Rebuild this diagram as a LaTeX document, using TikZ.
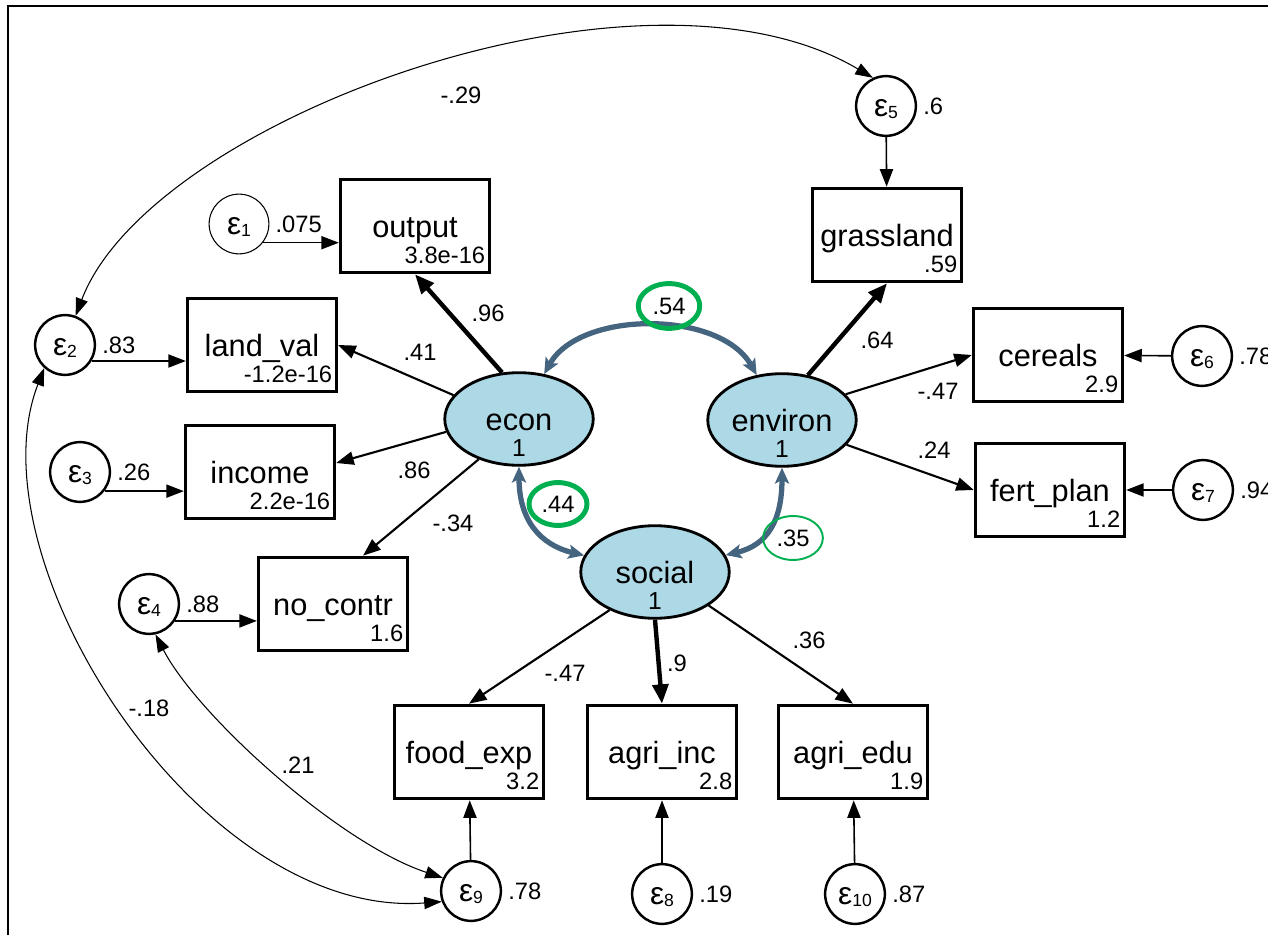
\documentclass[tikz,border=0pt]{standalone}
\usepackage{fontspec}
\setmainfont{Liberation Sans}
\usepackage{tikz}
\usetikzlibrary{arrows.meta,shapes.geometric,calc}
\definecolor{latblue}{RGB}{173,216,230}
\definecolor{covblue}{RGB}{68,100,128}
\definecolor{covgreen}{RGB}{0,176,80}
\newcommand{\fsz}[1]{\fontsize{#1}{#1}\selectfont}
\newcommand{\epsv}[1]{ε\raisebox{-1.2pt}{\fsz{10}#1}}
\tikzset{obs/.style={draw, rectangle, line width=1.7pt, minimum width=85pt, minimum height=53.3pt, inner sep=0pt, text height=13.6pt, text depth=0pt, font=\fsz{17.5}}}
\tikzset{intc/.style={anchor=south east, inner xsep=3.2pt, inner ysep=5.7pt, font=\fsz{13.5}}}
\tikzset{lat/.style={draw, ellipse, fill=latblue, line width=1.6pt, minimum width=84.5pt, minimum height=52.7pt, inner sep=0pt, text height=13.6pt, text depth=0pt, font=\fsz{17.5}}}
\tikzset{latv/.style={anchor=south, inner ysep=5.7pt, font=\fsz{14}}}
\tikzset{err/.style={draw, circle, line width=1.4pt, minimum size=34pt, inner sep=0pt, text height=12pt, text depth=0pt, font=\fsz{18}}}
\tikzset{evar/.style={font=\fsz{13.5}}}
\tikzset{lbl/.style={font=\fsz{13.5}, inner sep=1pt}}
\tikzset{gring/.style={draw=covgreen, ellipse, line width=2.8pt, inner sep=0pt, minimum width=35pt, minimum height=25.5pt, font=\fsz{13.5}}}
\tikzset{earrow/.style={line width=0.9pt, -{Triangle[length=10pt,width=7.5pt]}}}
\tikzset{load/.style={line width=1.2pt, -{Triangle[length=10pt,width=7.5pt]}}}
\tikzset{bigload/.style={line width=2.5pt, -{Triangle[length=11pt,width=9pt]}}}
\tikzset{corr/.style={line width=0.6pt, {Triangle[length=10pt,width=7pt]}-{Triangle[length=10pt,width=7pt]}}}
\tikzset{covarc/.style={draw=covblue, line width=3pt, {Stealth[length=9pt,width=8pt,inset=2pt]}-{Stealth[length=9pt,width=8pt,inset=2pt]}}}

\begin{document}
\begin{tikzpicture}[x=0.02cm, y=-0.02cm]
\useasboundingbox (0,0) rectangle (1268,935);
\draw[line width=1.4pt] (8,6) rectangle (1300,960);

\node[obs, label={[intc]south east:3.8e-16}] (output) at (415,226) {output};
\node[obs, label={[intc]south east:-1.2e-16}] (landval) at (262,345) {land\_val};
\node[obs, label={[intc]south east:2.2e-16}] (income) at (260,472) {income};
\node[obs, label={[intc]south east:1.6}] (nocontr) at (333,604) {no\_contr};
\node[obs, label={[intc]south east:.59}] (grassland) at (887,235) {grassland};
\node[obs, label={[intc]south east:2.9}] (cereals) at (1048,355) {cereals};
\node[obs, label={[intc]south east:1.2}] (fertplan) at (1050,490) {fert\_plan};
\node[obs, label={[intc]south east:3.2}] (foodexp) at (469,752) {food\_exp};
\node[obs, label={[intc]south east:2.8}] (agriinc) at (662,752) {agri\_inc};
\node[obs, label={[intc]south east:1.9}] (agriedu) at (853,752) {agri\_edu};

\node[lat, label={[latv]south:1}] (econ) at (519,419) {econ};
\node[lat, label={[latv]south:1}] (environ) at (782,420) {environ};
\node[lat, label={[latv]south:1}] (social) at (655,572) {social};

\node[err, line width=0.6pt, label={[evar]east:.075}] (e1) at (239,224) {\epsv{1}};
\node[err, label={[evar]east:.83}] (e2) at (65,345) {\epsv{2}};
\node[err, label={[evar]east:.26}] (e3) at (80,472) {\epsv{3}};
\node[err, label={[evar]east:.88}] (e4) at (149,604) {\epsv{4}};
\node[err, label={[evar]east:.6}] (e5) at (886,106) {\epsv{5}};
\node[err, label={[evar]east:.78}] (e6) at (1202,356) {\epsv{6}};
\node[err, label={[evar]east:.94}] (e7) at (1203,490) {\epsv{7}};
\node[err, label={[evar]east:.19}] (e8) at (662,894) {\epsv{8}};
\node[err, label={[evar]east:.78}] (e9) at (471,891) {\epsv{9}};
\node[err, label={[evar]east:.87}] (e10) at (855,894) {\epsv{10}};

\foreach \e/\v/\a in {e1/output/38, e2/landval/31, e3/income/38, e4/nocontr/33}
  \draw[earrow] (\e.-\a) -- (\e.-\a -| \v.west);
\foreach \e/\v in {e5/grassland, e6/cereals, e7/fertplan, e8/agriinc, e9/foodexp, e10/agriedu}
  \draw[earrow] (\e) -- (\v);

\draw[bigload] (econ.110) -- (output.south);
\draw[load] (econ.160) -- (landval.east);
\draw[load] (econ.190) -- ($(income.east)+(0,-9)$);
\draw[load] (econ.225) -- ($(nocontr.north)+(30,0)$);
\draw[bigload] (environ.60) -- (grassland.south);
\draw[load] (environ.22) -- (cereals.west);
\draw[load] (environ.-21) -- (fertplan.west);
\draw[load] (social.220) -- (foodexp.north);
\draw[bigload] (social.south) -- (agriinc.north);
\draw[load] (social.-32) -- (agriedu.north);

\draw[covarc] (econ) .. controls (580,310) and (720,310) .. (environ);
\draw[covarc] (econ) .. controls (519,520) and (540,545) .. (social);
\draw[covarc] (environ) .. controls (782,520) and (768,545) .. (social);

\draw[corr] (e2.70) .. controls (150,120) and (640,-60) .. (e5.115);
\draw[corr] (e2.228) .. controls (-30,560) and (200,920) .. (e9.200);
\draw[corr] (e4.-78) .. controls (197,715) and (338,843) .. (e9.155);

\node[gring] (c54) at (669,306) {.54};
\node[gring, minimum width=33pt, minimum height=24.4pt] (c44) at (558,504) {.44};
\node[gring, line width=1.1pt, minimum width=34pt, minimum height=25pt] (c35) at (793,538) {.35};

\node[lbl] (l29) at (461,95) {-.29};
\node[lbl] (l96) at (488,313) {.96};
\node[lbl] (l41) at (420,352) {.41};
\node[lbl] (l86) at (414,470) {.86};
\node[lbl] (l34) at (453,523) {-.34};
\node[lbl] (l64) at (877,340) {.64};
\node[lbl] (l47a) at (938,391) {-.47};
\node[lbl] (l24) at (934,450) {.24};
\node[lbl] (l18) at (149,708) {-.18};
\node[lbl] (l21) at (298,765) {.21};
\node[lbl] (l47b) at (565,673) {-.47};
\node[lbl] (l9) at (677,663) {.9};
\node[lbl] (l36) at (809,640) {.36};
\end{tikzpicture}
\end{document}
